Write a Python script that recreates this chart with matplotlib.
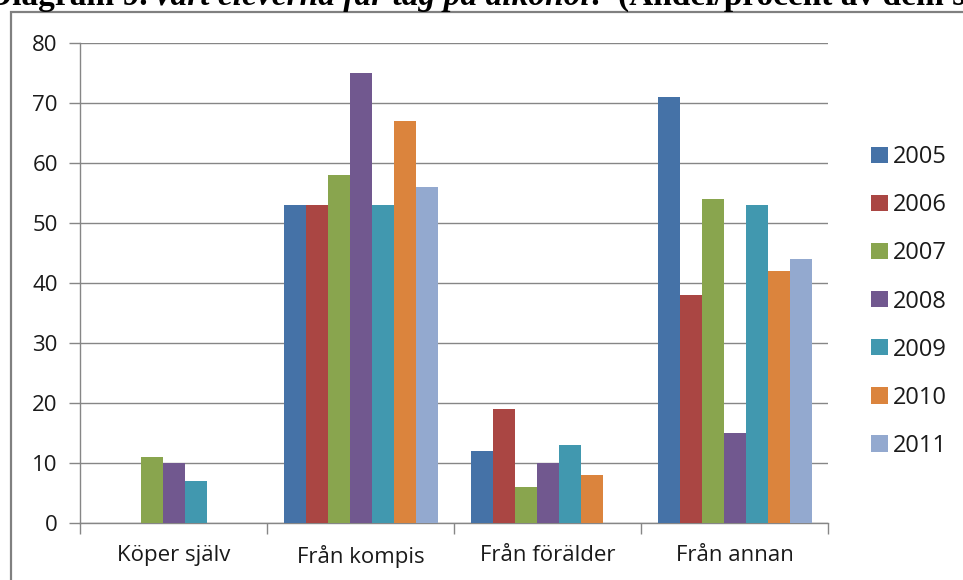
import numpy as np
import matplotlib
matplotlib.use("Agg")
import matplotlib.pyplot as plt
from matplotlib.patches import Rectangle

# Data
categories = ['Köper själv', 'Från kompis', 'Från förälder', 'Från annan']
years = ['2005', '2006', '2007', '2008', '2009', '2010', '2011']
v2005 = [0, 53, 12, 71]
v2006 = [0, 53, 19, 38]
v2007 = [11, 58, 6, 54]
v2008 = [10, 75, 10, 15]
v2009 = [7, 53, 13, 53]
v2010 = [0, 67, 8, 42]
v2011 = [0, 56, 0, 44]
series = [v2005, v2006, v2007, v2008, v2009, v2010, v2011]
colors = ['#4572A7', '#AA4643', '#89A54E', '#71588F', '#4198AF', '#DB843D', '#93A9CF']

W, H = 963, 580
fig = plt.figure(figsize=(W / 100, H / 100), dpi=100)
font = 'Open Sans'
fs = 16

# outer chart frame (cut at right and bottom like the screenshot)
fig.patches.append(Rectangle((11 / W, -0.1), 1.2, (H - 12) / H + 0.1,
                             transform=fig.transFigure, fill=False,
                             edgecolor='#808080', linewidth=1.6))

# caption above the chart, cut off at the top edge as in the screenshot
ty = (H - 5) / H
fig.text(-12 / W, ty, 'Diagram 9.', fontsize=24, fontweight='bold',
         family='Liberation Serif', va='baseline')
fig.text(152 / W, ty, 'Vart eleverna får tag på alkohol?', fontsize=24,
         fontweight='bold', fontstyle='italic', family='Liberation Serif', va='baseline')
fig.text(618 / W, ty, '(Andel/procent av dem som dricker)', fontsize=24,
         fontweight='bold', family='Liberation Serif', va='baseline')

ax = fig.add_axes([80 / W, (H - 523) / H, (828 - 80) / W, (523 - 43) / H])

n = len(series)
bw = 1 / (n + 1.5)
x = np.arange(len(categories))
for i, (vals, c, yr) in enumerate(zip(series, colors, years)):
    ax.bar(x - 0.5 + 0.75 * bw + i * bw + bw / 2, vals, width=bw, color=c,
           label=yr, zorder=3, linewidth=0)

ax.set_xlim(-0.5, len(categories) - 0.5)
ax.set_ylim(0, 80)
ax.set_yticks(range(0, 81, 10))
ax.yaxis.grid(True, color='#868686', linewidth=1, zorder=0)
ax.set_xticks(x)
ax.set_xticklabels(categories)
ax.set_xticks(np.arange(-0.5, len(categories), 1), minor=True)
ax.tick_params(axis='x', which='major', length=0, pad=16)
ax.tick_params(axis='x', which='minor', length=8, color='#868686', width=1)
ax.tick_params(axis='y', length=8, color='#868686', width=1, pad=8)
for lab in ax.get_xticklabels() + ax.get_yticklabels():
    lab.set_fontsize(fs)
    lab.set_family(font)
    lab.set_color('#1a1a1a')

for s in ['top', 'right']:
    ax.spines[s].set_visible(False)
for s in ['left', 'bottom']:
    ax.spines[s].set_color('#868686')
    ax.spines[s].set_linewidth(1)

leg = ax.legend(loc='center left', bbox_to_anchor=((871 - 80) / 748, (523 - 301.5) / 480),
                frameon=False, borderpad=0, borderaxespad=0,
                prop={'family': font, 'size': 17}, handlelength=0.7,
                handleheight=0.68, handletextpad=0.22, labelspacing=1.02)
for t in leg.get_texts():
    t.set_color('#1a1a1a')

fig.savefig('out.png', dpi=100)
